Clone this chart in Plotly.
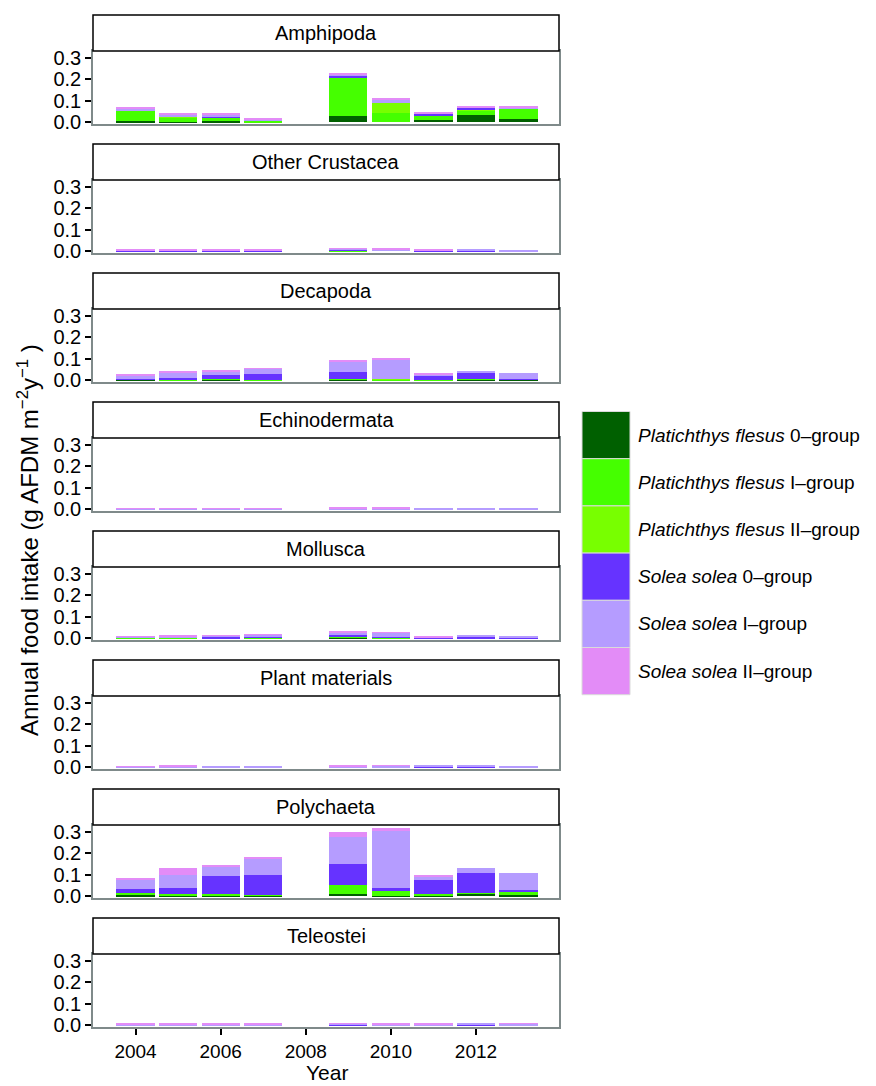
import plotly.graph_objects as go

years = [2004, 2005, 2006, 2007, 2009, 2010, 2011, 2012, 2013]
categories = ["Amphipoda", "Other Crustacea", "Decapoda", "Echinodermata",
              "Mollusca", "Plant materials", "Polychaeta", "Teleostei"]

series_names = ["<i>Platichthys flesus</i> 0\u2013group",
                "<i>Platichthys flesus</i> I\u2013group",
                "<i>Platichthys flesus</i> II\u2013group",
                "<i>Solea solea</i> 0\u2013group",
                "<i>Solea solea</i> I\u2013group",
                "<i>Solea solea</i> II\u2013group"]
series_colors = ["#006000", "#45FF00", "#78FF00", "#6633FF", "#B59CFF", "#E38CF7"]

# rows: categories (same order as above), columns: years
pf0 = [
    [0.006, 0.002, 0.005, 0.001, 0.031, 0.000, 0.011, 0.036, 0.017],
    [0.000, 0.000, 0.000, 0.000, 0.001, 0.000, 0.000, 0.000, 0.000],
    [0.002, 0.001, 0.002, 0.001, 0.002, 0.000, 0.001, 0.002, 0.002],
    [0.000, 0.000, 0.000, 0.000, 0.000, 0.000, 0.000, 0.000, 0.000],
    [0.000, 0.000, 0.000, 0.000, 0.002, 0.000, 0.000, 0.000, 0.000],
    [0.000, 0.000, 0.000, 0.000, 0.000, 0.000, 0.000, 0.000, 0.000],
    [0.005, 0.004, 0.005, 0.002, 0.011, 0.002, 0.004, 0.011, 0.005],
    [0.000, 0.000, 0.000, 0.000, 0.000, 0.000, 0.000, 0.000, 0.000],
]
pf1 = [
    [0.048, 0.021, 0.017, 0.005, 0.178, 0.042, 0.022, 0.020, 0.045],
    [0.000, 0.000, 0.000, 0.000, 0.002, 0.000, 0.000, 0.000, 0.000],
    [0.002, 0.002, 0.002, 0.002, 0.006, 0.005, 0.001, 0.002, 0.003],
    [0.000, 0.000, 0.000, 0.000, 0.000, 0.000, 0.000, 0.000, 0.000],
    [0.002, 0.002, 0.001, 0.002, 0.004, 0.003, 0.001, 0.001, 0.000],
    [0.000, 0.000, 0.000, 0.000, 0.000, 0.000, 0.000, 0.000, 0.000],
    [0.012, 0.007, 0.006, 0.004, 0.043, 0.024, 0.005, 0.004, 0.014],
    [0.000, 0.000, 0.000, 0.000, 0.000, 0.000, 0.000, 0.000, 0.000],
]
pf2 = [
    [0.000, 0.002, 0.002, 0.000, 0.000, 0.048, 0.000, 0.004, 0.000],
    [0.000, 0.000, 0.000, 0.000, 0.000, 0.000, 0.000, 0.000, 0.000],
    [0.000, 0.000, 0.000, 0.000, 0.000, 0.001, 0.000, 0.000, 0.000],
    [0.000, 0.000, 0.000, 0.000, 0.000, 0.000, 0.000, 0.000, 0.000],
    [0.000, 0.000, 0.000, 0.000, 0.000, 0.000, 0.000, 0.000, 0.000],
    [0.000, 0.000, 0.000, 0.000, 0.000, 0.000, 0.000, 0.000, 0.000],
    [0.000, 0.000, 0.000, 0.000, 0.000, 0.000, 0.000, 0.000, 0.000],
    [0.000, 0.000, 0.000, 0.000, 0.000, 0.000, 0.000, 0.000, 0.000],
]
ss0 = [
    [0.001, 0.003, 0.005, 0.004, 0.006, 0.001, 0.006, 0.007, 0.001],
    [0.002, 0.002, 0.003, 0.003, 0.003, 0.000, 0.003, 0.003, 0.001],
    [0.003, 0.009, 0.022, 0.028, 0.032, 0.001, 0.018, 0.029, 0.002],
    [0.000, 0.000, 0.000, 0.000, 0.000, 0.000, 0.001, 0.001, 0.001],
    [0.002, 0.002, 0.006, 0.008, 0.008, 0.002, 0.004, 0.008, 0.001],
    [0.000, 0.000, 0.001, 0.001, 0.000, 0.000, 0.002, 0.002, 0.001],
    [0.016, 0.028, 0.083, 0.095, 0.096, 0.013, 0.065, 0.095, 0.010],
    [0.000, 0.000, 0.000, 0.000, 0.002, 0.000, 0.000, 0.004, 0.000],
]
ss1 = [
    [0.007, 0.007, 0.006, 0.005, 0.008, 0.017, 0.004, 0.003, 0.007],
    [0.002, 0.002, 0.002, 0.002, 0.005, 0.010, 0.000, 0.004, 0.006],
    [0.015, 0.026, 0.015, 0.024, 0.045, 0.089, 0.005, 0.010, 0.027],
    [0.004, 0.004, 0.004, 0.004, 0.002, 0.002, 0.004, 0.004, 0.004],
    [0.002, 0.004, 0.005, 0.007, 0.014, 0.021, 0.000, 0.007, 0.010],
    [0.004, 0.002, 0.004, 0.004, 0.002, 0.008, 0.004, 0.004, 0.004],
    [0.043, 0.062, 0.042, 0.073, 0.127, 0.262, 0.016, 0.022, 0.080],
    [0.003, 0.003, 0.003, 0.004, 0.004, 0.005, 0.003, 0.003, 0.006],
]
ss2 = [
    [0.005, 0.004, 0.004, 0.005, 0.005, 0.002, 0.005, 0.001, 0.001],
    [0.004, 0.004, 0.003, 0.004, 0.004, 0.003, 0.004, 0.000, 0.000],
    [0.003, 0.004, 0.004, 0.002, 0.005, 0.003, 0.006, 0.000, 0.000],
    [0.001, 0.001, 0.001, 0.001, 0.004, 0.004, 0.000, 0.000, 0.000],
    [0.004, 0.007, 0.003, 0.002, 0.003, 0.002, 0.006, 0.000, 0.000],
    [0.001, 0.004, 0.000, 0.000, 0.004, 0.001, 0.000, 0.000, 0.000],
    [0.009, 0.031, 0.005, 0.006, 0.022, 0.017, 0.008, 0.000, 0.000],
    [0.004, 0.004, 0.004, 0.003, 0.004, 0.005, 0.004, 0.000, 0.001],
]
series_values = [pf0, pf1, pf2, ss0, ss1, ss2]

y_ticks = [0.0, 0.1, 0.2, 0.3]
y_tick_labels = ["0.0", "0.1", "0.2", "0.3"]
x_ticks = [2004, 2006, 2008, 2010, 2012]

FONT = "Liberation Sans, Arial, Helvetica, sans-serif"
TICK_SIZE = 20
XTICK_SIZE = 19
STRIP_SIZE = 20
LEG_SIZE = 19
TITLE_SIZE = 24
W, H = 876, 1086
ML, MR, MT, MB = 93, 317, 15, 59
PW = W - ML - MR
PH = H - MT - MB
BOTTOM_PX = H - MB


def py(ypx):
    return (BOTTOM_PX - ypx) / PH


def px(xpx):
    return (xpx - ML) / PW


fig = go.Figure()
layout = dict(
    width=W, height=H,
    margin=dict(l=ML, r=MR, t=MT, b=MB),
    paper_bgcolor="white", plot_bgcolor="white",
    barmode="stack", bargap=0.1, showlegend=False,
    font=dict(family=FONT, size=TICK_SIZE, color="black"),
)
shapes = []
annotations = []
n = len(categories)
for i, cat in enumerate(categories):
    k = "" if i == 0 else str(i + 1)
    strip_top = 15 + 129 * i
    strip_bot = 51 + 129 * i
    plot_bot = 124 + 129 * i
    last = (i == n - 1)
    layout["xaxis" + k] = dict(
        domain=[0, 1], anchor="y" + k, range=[2003.0, 2013.95],
        showline=True, mirror=True, linecolor="#7F8A8A", linewidth=1.5,
        showgrid=False, zeroline=False,
        tickvals=x_ticks, ticks="outside" if last else "", ticklen=6,
        tickwidth=2, tickcolor="black", showticklabels=last,
        tickfont=dict(size=XTICK_SIZE, color="black", family=FONT),
        matches=None if i == 0 else "x",
    )
    layout["yaxis" + k] = dict(
        domain=[py(plot_bot), py(strip_bot)], anchor="x" + k,
        range=[-0.008, 0.331],
        showline=True, mirror=True, linecolor="#7F8A8A", linewidth=1.5,
        showgrid=False, zeroline=False,
        tickvals=y_ticks, ticktext=y_tick_labels, ticks="outside", ticklen=6,
        tickwidth=2, tickcolor="black",
        tickfont=dict(size=TICK_SIZE, color="black", family=FONT),
    )
    for s in range(len(series_names)):
        fig.add_trace(go.Bar(
            x=years, y=series_values[s][i], name=series_names[s],
            marker=dict(color=series_colors[s], line=dict(width=0)),
            width=0.9, xaxis="x" + k, yaxis="y" + k,
        ))
    shapes.append(dict(type="rect", xref="paper", yref="paper",
                       x0=0, x1=1, y0=py(strip_bot), y1=py(strip_top),
                       line=dict(color="black", width=1.5), fillcolor="white",
                       layer="above"))
    annotations.append(dict(text=cat, xref="paper", yref="paper", x=0.5,
                            y=(py(strip_bot) + py(strip_top)) / 2,
                            xanchor="center", yanchor="middle", showarrow=False,
                            font=dict(size=STRIP_SIZE, color="black", family=FONT)))

# legend drawn from series lists
key_top = 411.5
key_h = 47.2
for s, (name, col) in enumerate(zip(series_names, series_colors)):
    y0 = key_top + s * key_h
    shapes.append(dict(type="rect", xref="paper", yref="paper",
                       x0=px(582), x1=px(630), y0=py(y0 + key_h), y1=py(y0),
                       line=dict(color="#DADADA", width=1), fillcolor=col))
    annotations.append(dict(text=name, xref="paper", yref="paper",
                            x=px(636), y=py(y0 + key_h / 2),
                            xanchor="left", yanchor="middle", showarrow=False,
                            font=dict(size=LEG_SIZE, color="black", family=FONT)))

annotations.append(dict(text="Annual food intake (g AFDM m<sup>\u22122</sup>y<sup>\u22121</sup> )",
                        xref="paper", yref="paper", x=px(28), y=py(540),
                        xanchor="center", yanchor="middle", textangle=-90,
                        showarrow=False, font=dict(size=TITLE_SIZE, color="black", family=FONT)))
annotations.append(dict(text="Year", xref="paper", yref="paper", x=px(327), y=py(1086),
                        xanchor="center", yanchor="bottom", showarrow=False,
                        font=dict(size=21, color="black", family=FONT)))

layout["shapes"] = shapes
layout["annotations"] = annotations
fig.update_layout(**layout)
fig.write_html("out.html")
